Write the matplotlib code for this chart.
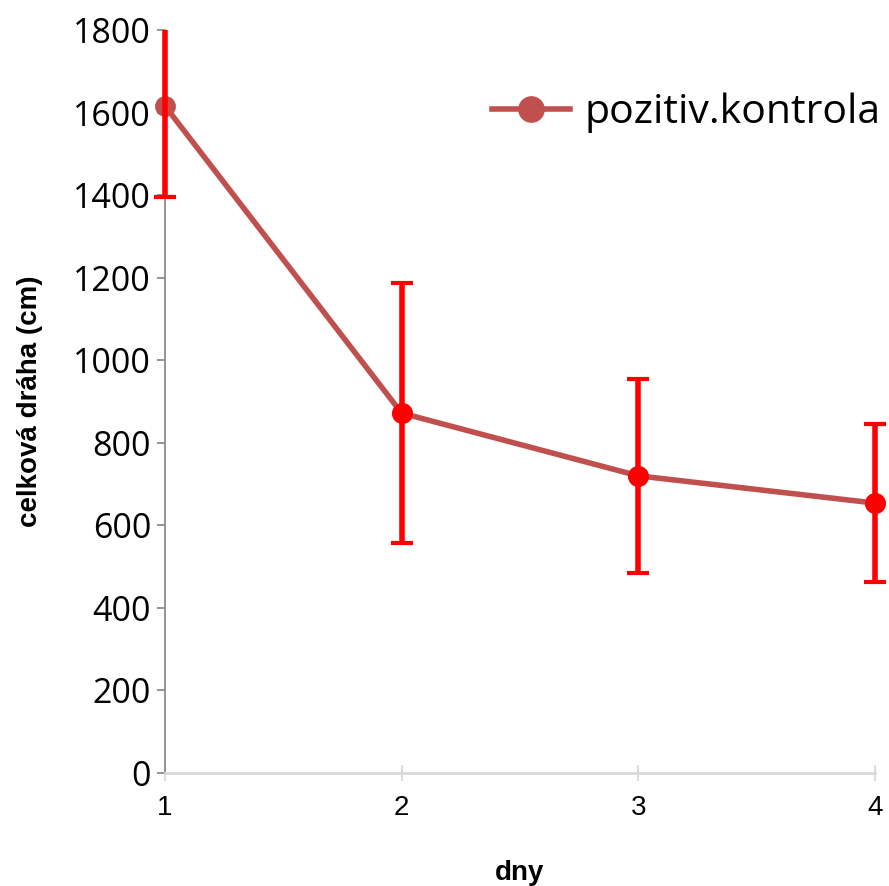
import numpy as np
import matplotlib.pyplot as plt
from matplotlib.patches import Rectangle

days = [1, 2, 3, 4]
means = [1616, 872, 720, 654]
errors = [221, 315, 235, 191]
yticks = [0, 200, 400, 600, 800, 1000, 1200, 1400, 1600, 1800]

fig = plt.figure(figsize=(8.89, 8.86), dpi=100)
ax = fig.add_axes([0.1856, 0.1275, 0.7986, 0.8386])

ax.plot(days, means, color='#c0504d', lw=4, marker='o', ms=14,
        mec='#c0504d', mfc='#c0504d', label='pozitiv.kontrola', zorder=2, clip_on=False)
eb = ax.errorbar(days, means, yerr=errors, fmt='none', ecolor='red',
                 elinewidth=4, capsize=8, capthick=3, zorder=3)
# clip only at top/bottom, let caps at the right edge show fully
clip = Rectangle((-0.05, 0), 1.1, 1, transform=ax.transAxes, visible=False)
ax.add_patch(clip)
for art in list(eb.lines[1]) + list(eb.lines[2]):
    art.set_clip_path(clip)
ax.plot(days[1:], means[1:], 'o', color='red', ms=14, zorder=4, clip_on=False)

ax.set_xlim(1, 4)
ax.set_ylim(0, 1800)
ax.set_xticks(days)
ax.set_yticks(yticks)

ax.spines['top'].set_visible(False)
ax.spines['right'].set_visible(False)
ax.spines['left'].set_color('#8c8c8c')
ax.spines['left'].set_linewidth(1.3)
ax.spines['bottom'].set_color('#d9d9d9')
ax.spines['bottom'].set_linewidth(2)

ax.tick_params(axis='y', direction='out', length=6, width=1.3, color='#8c8c8c', pad=4)
ax.tick_params(axis='x', direction='inout', length=12, width=1.3, color='#d9d9d9', pad=10)
for t in ax.get_yticklabels():
    t.set_fontfamily('Open Sans')
    t.set_fontsize(24.5)
for t in ax.get_xticklabels():
    t.set_fontfamily('Liberation Sans')
    t.set_fontsize(20)

ax.set_ylabel('celková dráha (cm)', fontfamily='Liberation Sans', fontweight='bold',
              fontsize=20, labelpad=22)
ax.set_xlabel('dny', fontfamily='Liberation Sans', fontweight='bold', fontsize=20, labelpad=28)

ax.legend(loc='upper right', frameon=False, bbox_to_anchor=(1.06, 0.965),
          prop={'family': 'Open Sans', 'size': 29.5}, handlelength=1.9,
          handletextpad=0.35, markerscale=1.3)

fig.savefig('out.png', dpi=100)
